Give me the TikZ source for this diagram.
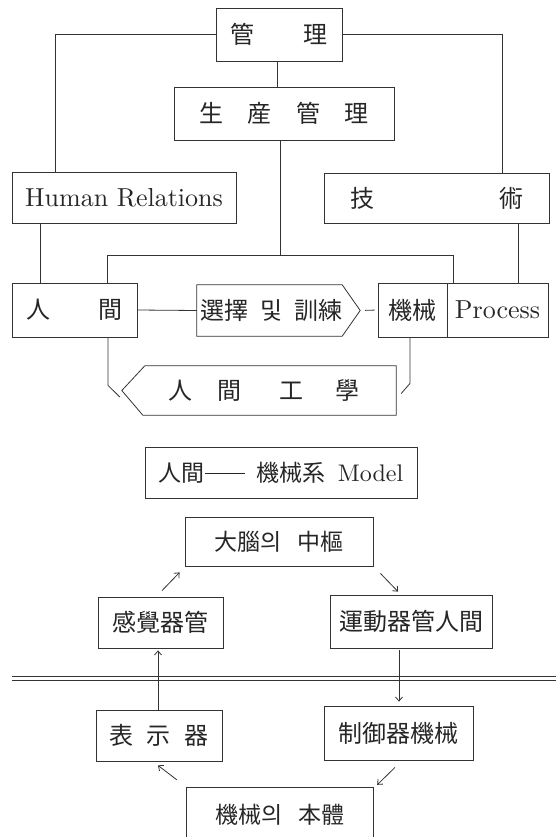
\documentclass[tikz,border=0pt]{standalone}
\usepackage{fontspec}
\newfontfamily\cjk{Noto Sans CJK KR}
\newfontfamily\latin{lmroman10-regular.otf}
\usetikzlibrary{arrows.meta}
\tikzset{
  ln/.style={line width=0.8pt, draw=black!80},
  bx/.style={ln, draw, inner sep=0pt, text=black!85, font=\cjk\fontsize{24}{28}\selectfont},
  nb/.style={inner sep=0pt, text=black!85, font=\cjk\fontsize{24}{28}\selectfont},
  sm/.style={font=\cjk\fontsize{23}{27}\selectfont},
  lat/.style={font=\latin\fontsize{26}{30}\selectfont},
  arr/.style={ln, -{Straight Barb[length=4pt,width=7pt]}}
}
\begin{document}
\begin{tikzpicture}[x=1pt,y=1pt]
\path[use as bounding box] (0,0) rectangle (556,-837);
\clip (0,0) rectangle (556,-837);

% upper chart
\node[bx, minimum width=126pt, minimum height=53pt] (mgmt) at (279,-34.5) {\makebox[98pt]{管\hfill 理}};
\node[bx, minimum width=220pt, minimum height=53pt] (prod) at (284,-113.5) {\makebox[170pt]{生\hfill 産\hfill 管\hfill 理}};
\node[bx, lat, minimum width=224pt, minimum height=51pt] (hr) at (124,-197.5) {Human Relations};
\node[bx, minimum width=225pt, minimum height=50pt] (tech) at (436.5,-198) {\makebox[173pt]{技\hfill 術}};
\node[bx, minimum width=125pt, minimum height=54pt] (human) at (74.5,-310) {\makebox[97pt]{人\hfill 間}};
\node[nb, minimum width=163pt, minimum height=51pt] (sel) at (278.5,-310.5) {\makebox[163pt][l]{\hspace{3pt}\makebox[143pt]{選擇\hfill 및\hfill 訓練}}};
\draw[ln] (sel.north west) -- ([xshift=-18pt]sel.north east) -- (sel.east) -- ([xshift=-18pt]sel.south east) -- (sel.south west) -- cycle;
\node[bx, minimum width=69pt, minimum height=54pt] (mach) at (412.5,-310) {機械};
\node[bx, lat, minimum width=101pt, minimum height=54pt] (proc) at (497.5,-310) {Process};
\node[nb, minimum width=274pt, minimum height=49pt] (ergo) at (259,-390.5) {\hspace{10pt}人\hspace{26pt}間\hspace{38pt}工\hspace{32pt}學};
\draw[ln] (ergo.north east) -- ([xshift=23pt]ergo.north west) -- (ergo.west) -- ([xshift=21pt]ergo.south west) -- (ergo.south east) -- cycle;

\draw[ln] (mgmt.west) -| ([xshift=-69pt]hr.north);
\draw[ln] (mgmt.east) -| ([xshift=65.5pt]tech.north);
\draw[ln] ([xshift=-2pt]mgmt.south) -- ([xshift=-2pt]mgmt.south |- prod.north);
\draw[ln] ([xshift=32.5pt]human.north) -- ++(0,27) -| ([xshift=-44.5pt]proc.north);
\draw[ln] ([xshift=-4pt]prod.south) -- ++(0,-116);
\draw[ln] ([xshift=-84pt]hr.south) -- ([xshift=-84pt]hr.south |- human.north);
\draw[ln] ([xshift=81.5pt]tech.south) -- ([xshift=81.5pt]tech.south |- proc.north);
\draw[ln] (human.east) -- (sel.west);
\draw[ln, shorten <=5pt, shorten >=3pt] (sel.east) -- (mach.west);
\draw[ln] ([xshift=33.5pt]human.south) -- ++(0,-48) -- ([shift={(-2pt,-6.5pt)}]ergo.west);
\draw[ln] ([xshift=-2.5pt]mach.south) -- ++(0,-46) -- ([shift={(5pt,-3pt)}]ergo.east);

% lower model
\node[bx, sm, minimum width=272pt, minimum height=51pt] (model) at (281,-472.5)
  {人間\rule[7.5pt]{40pt}{0.9pt}\hspace{12pt}機械系\hspace{12pt}{\latin\fontsize{24}{28}\selectfont Model}};
\node[bx, sm, minimum width=188pt, minimum height=49pt] (brain) at (279,-541.5) {大腦의\hspace{15pt}中樞};
\node[bx, minimum width=125pt, minimum height=51pt] (sense) at (160.5,-622.5) {感覺器管};
\node[bx, minimum width=162pt, minimum height=53pt] (motor) at (411,-621.5) {運動器管人間};
\node[bx, minimum width=126pt, minimum height=51pt] (disp) at (159,-735.5) {\makebox[100pt]{表\hfill 示\hfill 器}};
\node[bx, minimum width=149pt, minimum height=54pt] (ctrl) at (398.5,-733) {制御器機械};
\node[nb, sm, minimum width=186pt, minimum height=54pt] (body) at (280,-815) {機械의\hspace{15pt}本體};
\draw[ln] (body.south west) -- (body.north west) -- (body.north east) -- (body.south east);

\draw[ln] (12,-676.5) -- (556,-676.5);
\draw[ln] (12,-680) -- (556,-680);

\draw[arr] ([shift={(1.5pt,6pt)}]sense.north) -- ([shift={(-5pt,-6pt)}]brain.south west);
\draw[arr] ([shift={(7pt,-7pt)}]brain.south east) -- ([shift={(-13pt,3pt)}]motor.north);
\draw[arr, shorten >=2pt] ([xshift=-1pt]disp.north) -- ([xshift=-2.5pt]sense.south);
\draw[arr, shorten <=2pt, shorten >=4pt] ([xshift=-12pt]motor.south) -- ([xshift=0.5pt]ctrl.north);
\draw[arr] ([shift={(-3.5pt,-7pt)}]ctrl.south) -- ([shift={(4pt,3pt)}]body.north east);
\draw[arr] ([shift={(-10pt,8pt)}]body.north west) -- ([shift={(-1pt,-4pt)}]disp.south);
\end{tikzpicture}
\end{document}
